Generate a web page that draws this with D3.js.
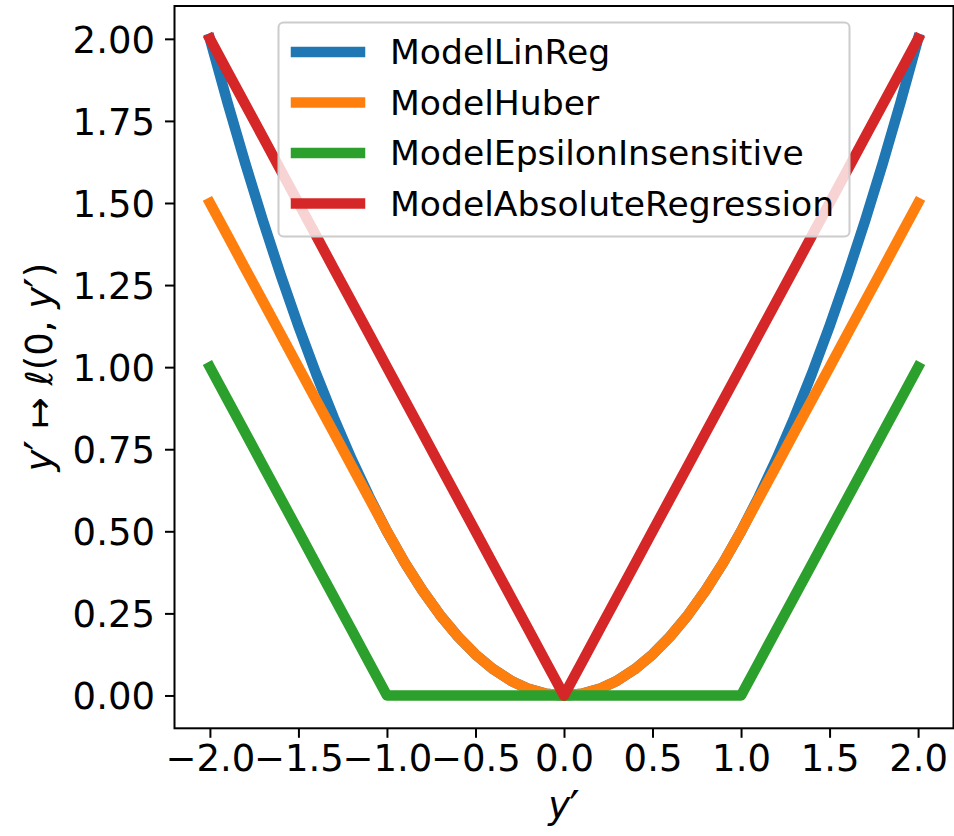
<!DOCTYPE html>
<html>
<head>
<meta charset="utf-8">
<script src="https://cdn.jsdelivr.net/npm/d3@7"></script>
<style>
  html, body { margin: 0; padding: 0; background: #fff; }
  text { font-family: "DejaVu Sans", sans-serif; }
</style>
</head>
<body>
<div id="chart"></div>
<script>
// y' sample points
const xValues = [-2.0, -1.9, -1.8, -1.7, -1.6, -1.5, -1.4, -1.3, -1.2, -1.1, -1.0,
                 -0.9, -0.8, -0.7, -0.6, -0.5, -0.4, -0.3, -0.2, -0.1, 0.0,
                 0.1, 0.2, 0.3, 0.4, 0.5, 0.6, 0.7, 0.8, 0.9, 1.0,
                 1.1, 1.2, 1.3, 1.4, 1.5, 1.6, 1.7, 1.8, 1.9, 2.0];

const linRegValues = [2.0, 1.805, 1.62, 1.445, 1.28, 1.125, 0.98, 0.845, 0.72, 0.605, 0.5,
                      0.405, 0.32, 0.245, 0.18, 0.125, 0.08, 0.045, 0.02, 0.005, 0.0,
                      0.005, 0.02, 0.045, 0.08, 0.125, 0.18, 0.245, 0.32, 0.405, 0.5,
                      0.605, 0.72, 0.845, 0.98, 1.125, 1.28, 1.445, 1.62, 1.805, 2.0];

const huberValues = [1.5, 1.4, 1.3, 1.2, 1.1, 1.0, 0.9, 0.8, 0.7, 0.6, 0.5,
                     0.405, 0.32, 0.245, 0.18, 0.125, 0.08, 0.045, 0.02, 0.005, 0.0,
                     0.005, 0.02, 0.045, 0.08, 0.125, 0.18, 0.245, 0.32, 0.405, 0.5,
                     0.6, 0.7, 0.8, 0.9, 1.0, 1.1, 1.2, 1.3, 1.4, 1.5];

const epsilonValues = [1.0, 0.9, 0.8, 0.7, 0.6, 0.5, 0.4, 0.3, 0.2, 0.1, 0.0,
                       0.0, 0.0, 0.0, 0.0, 0.0, 0.0, 0.0, 0.0, 0.0, 0.0,
                       0.0, 0.0, 0.0, 0.0, 0.0, 0.0, 0.0, 0.0, 0.0, 0.0,
                       0.1, 0.2, 0.3, 0.4, 0.5, 0.6, 0.7, 0.8, 0.9, 1.0];

const absoluteValues = [2.0, 1.9, 1.8, 1.7, 1.6, 1.5, 1.4, 1.3, 1.2, 1.1, 1.0,
                        0.9, 0.8, 0.7, 0.6, 0.5, 0.4, 0.3, 0.2, 0.1, 0.0,
                        0.1, 0.2, 0.3, 0.4, 0.5, 0.6, 0.7, 0.8, 0.9, 1.0,
                        1.1, 1.2, 1.3, 1.4, 1.5, 1.6, 1.7, 1.8, 1.9, 2.0];

const seriesNames = ['ModelLinReg', 'ModelHuber', 'ModelEpsilonInsensitive', 'ModelAbsoluteRegression'];
const seriesColors = ['#1f77b4', '#ff7f0e', '#2ca02c', '#d62728'];
const xTicks = [-2.0, -1.5, -1.0, -0.5, 0.0, 0.5, 1.0, 1.5, 2.0];
const yTicks = [0.0, 0.25, 0.5, 0.75, 1.0, 1.25, 1.5, 1.75, 2.0];

const width = 954, height = 836;
const plot = { left: 174.5, right: 953.5, top: 6, bottom: 728.3 };
const tickFont = 37;
const legendFont = 34.6;

const svg = d3.select('#chart')
    .append('svg')
    .attr('width', width)
    .attr('height', height);

const x = d3.scaleLinear().domain([-2.2, 2.2]).range([plot.left, plot.right]);
const y = d3.scaleLinear().domain([-0.1, 2.1]).range([plot.bottom, plot.top]);

svg.append('defs').append('clipPath')
    .attr('id', 'clip')
    .append('rect')
    .attr('x', plot.left).attr('y', plot.top)
    .attr('width', plot.right - plot.left)
    .attr('height', plot.bottom - plot.top);

const allSeries = [linRegValues, huberValues, epsilonValues, absoluteValues];

const line = d3.line()
    .x(d => x(d[0]))
    .y(d => y(d[1]));

const lines = svg.append('g').attr('clip-path', 'url(#clip)');
allSeries.forEach((vals, i) => {
    lines.append('path')
        .datum(xValues.map((xv, j) => [xv, vals[j]]))
        .attr('d', line)
        .attr('fill', 'none')
        .attr('stroke', seriesColors[i])
        .attr('stroke-width', 10.5)
        .attr('stroke-linejoin', 'round')
        .attr('stroke-linecap', 'square');
});

// axes
const xAxis = svg.append('g')
    .attr('transform', `translate(0,${plot.bottom})`)
    .call(d3.axisBottom(x).tickValues(xTicks).tickFormat(d3.format('.1f')).tickSize(9.5).tickPadding(7));

const yAxis = svg.append('g')
    .attr('transform', `translate(${plot.left},0)`)
    .call(d3.axisLeft(y).tickValues(yTicks).tickFormat(d3.format('.2f')).tickSize(9.5).tickPadding(10));

[xAxis, yAxis].forEach(a => {
    a.select('.domain').remove();
    a.selectAll('.tick line').attr('stroke', '#000').attr('stroke-width', 2);
    a.selectAll('.tick text')
        .attr('fill', '#000')
        .style('font-size', tickFont + 'px')
        .style('font-family', '"DejaVu Sans", sans-serif')
        .text(function (d) {
            return d3.select(this).text().replace('-', '\u2212');
        });
});
yAxis.selectAll('.tick text').attr('dy', '0.36em');

svg.append('rect')
    .attr('x', plot.left).attr('y', plot.top)
    .attr('width', plot.right - plot.left)
    .attr('height', plot.bottom - plot.top)
    .attr('fill', 'none')
    .attr('stroke', '#000')
    .attr('stroke-width', 2);

// axis labels: y' drawn as italic y plus an enlarged, lowered prime
const primeY = '<tspan font-style="italic">y</tspan>' +
    '<tspan font-size="1.25em" dy="6" dx="-1">\u2032</tspan>';

svg.append('text')
    .attr('x', (plot.left + plot.right) / 2)
    .attr('y', 818)
    .attr('text-anchor', 'middle')
    .style('font-size', tickFont + 'px')
    .html(primeY);

svg.append('text')
    .attr('transform', `translate(52,${(plot.top + plot.bottom) / 2}) rotate(-90)`)
    .attr('text-anchor', 'middle')
    .style('font-size', tickFont + 'px')
    .html(primeY + '<tspan dy="-6"> \u21a6 </tspan><tspan font-style="italic">\u2113</tspan><tspan>(0, </tspan>' +
          primeY + '<tspan dy="-6">)</tspan>');

// legend
const legend = svg.append('g');
legend.append('rect')
    .attr('x', 278.5).attr('y', 22.5)
    .attr('width', 571).attr('height', 214)
    .attr('rx', 5)
    .attr('fill', 'rgba(255,255,255,0.8)')
    .attr('stroke', '#cccccc')
    .attr('stroke-width', 2);

seriesNames.forEach((name, i) => {
    const ly = 52 + i * 50.5;
    legend.append('line')
        .attr('x1', 296).attr('x2', 360)
        .attr('y1', ly).attr('y2', ly)
        .attr('stroke', seriesColors[i])
        .attr('stroke-width', 10.5)
        .attr('stroke-linecap', 'square');
    legend.append('text')
        .attr('x', 390)
        .attr('y', ly)
        .attr('dy', '0.36em')
        .style('font-size', legendFont + 'px')
        .text(name);
});
</script>
</body>
</html>
